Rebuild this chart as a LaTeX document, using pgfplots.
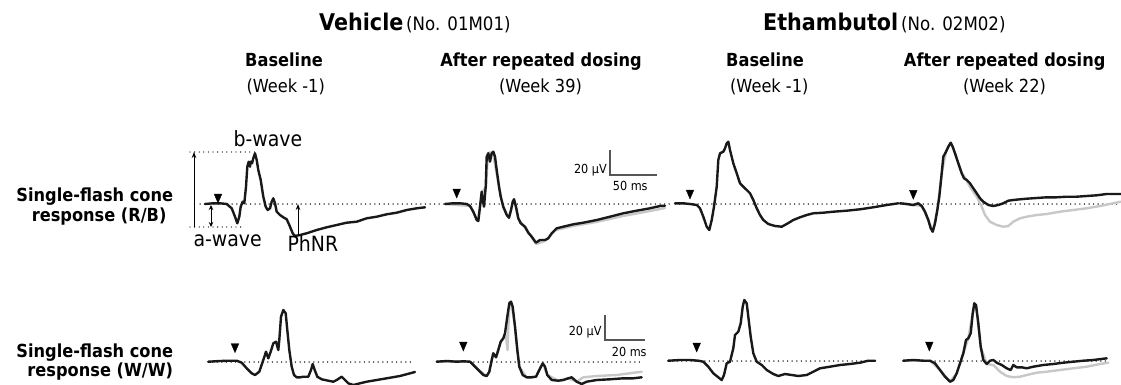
\documentclass[border=0pt]{standalone}
\usepackage{pgfplots}
\pgfplotsset{compat=1.18}
\usepackage{fontspec}
\setmainfont{DejaVu Sans}[FakeStretch=0.9]
\usetikzlibrary{arrows.meta}
\definecolor{trgray}{HTML}{C8C8C8}
\definecolor{bargray}{HTML}{555555}
\begin{document}
\begin{tikzpicture}
\begin{axis}[
  width=1121pt, height=385pt, scale only axis,
  xmin=0, xmax=1121, ymin=0, ymax=385, y dir=reverse,
  hide axis, clip=false,
  trace/.style={black!90, line width=2.4pt, line join=round, line cap=round},
  gtrace/.style={trgray, line width=2.4pt, line join=round, line cap=round},
  base/.style={black, line width=1.5pt, line cap=round, dash pattern=on 0pt off 4.6pt},
  sbar/.style={bargray, line width=1.4pt},
  stim/.style={only marks, mark=triangle*, mark size=4.4pt, black, mark options={rotate=180, yscale=1.35}},
]
% ---------- baselines ----------
\addplot[base] coordinates {(200,204) (670,204)};
\addplot[base] coordinates {(675,204) (1121,204)};
\addplot[base] coordinates {(208,362) (413,362)};
\addplot[base] coordinates {(437,362) (643,362)};
\addplot[base] coordinates {(668,361) (875,361)};
\addplot[base] coordinates {(903,361) (1108,361)};
% ---------- annotations panel 1 ----------
\addplot[base, line width=1.3pt] coordinates {(190,152) (257,152)};
\addplot[base, line width=1.3pt] coordinates {(190,227) (242,227)};
% ---------- row 1 gray traces ----------
\addplot[gtrace] coordinates {(445,204) (470,206) (478,221) (482,192) (486,187) (488,153) (493,152) (496,170) (503,207) (509,218) (514,199) (518,218) (525,228) (531,236) (536,244) (545,241) (556,230) (573,226) (596,222) (623,216) (650,211) (665,208)};
\addplot[gtrace] coordinates {(900,203.3) (913.3,205) (921.7,206) (928.3,220) (932.7,231.7) (937.3,210) (941.7,173.3) (946,151.7) (950.7,142.7) (955,153.3) (961.7,173.3) (964,176) (967,181) (970,187) (976.7,196.7) (981.7,206.7) (985,215) (990,221.7) (996.7,225) (1003.3,226.7) (1008.3,226) (1013.3,221.7) (1020,218.3) (1026.7,216.7) (1036.7,215) (1046.7,214) (1060,211.7) (1073.3,210) (1086.7,208.3) (1100,206) (1121,201.7)};
% ---------- row 1 black traces ----------
\addplot[trace] coordinates {(205,204) (213.3,203.3) (220,203.3) (226.7,204) (231.7,208.3) (235,216.7) (237.3,223.3) (239.3,216.7) (240.7,206.7) (242.7,201.7) (244.3,203.3) (246,186.7) (247.3,166.7) (248.7,161.7) (250,166.7) (250.7,161.7) (252,163.3) (253.3,158.3) (255,153.3) (256.7,160) (258.3,170) (260.7,180) (263.3,196.7) (265.7,206.7) (267.7,210) (270,208.3) (271.7,201.7) (273.3,198.3) (275,203.3) (276.7,211.7) (280,215) (283.3,217.3) (286.7,219.3) (289.3,225) (292.7,233.3) (295,236) (300,235) (306.7,233.3) (316.7,230) (326.7,227.3) (336.7,225) (346.7,222.7) (356.7,221.7) (366.7,218.3) (376.7,216.7) (386.7,214.3) (396.7,212.7) (406.7,210) (416.7,208.3) (425,207.3)};
\addplot[trace] coordinates {(445,204) (453.3,203.3) (460,203.3) (466.7,204) (470,206) (473.3,211.7) (476.7,220) (478.3,221) (480,206.7) (481.7,191.7) (482.7,200) (484,206.7) (485.7,186.7) (486.7,156.7) (488.3,153.3) (490,161.7) (491.7,153.3) (493.3,151.7) (495,156.7) (496.7,170) (499,186.7) (500.7,196.7) (503.3,206.7) (506.7,215) (509,217.7) (511,210) (512.7,201.7) (514,199.3) (516,206.7) (518.3,218.3) (520.7,223.3) (525,226.7) (528.3,232.7) (531.7,236.7) (536,242.7) (540,240) (545,240) (548.3,238.3) (551.7,233.3) (556.7,228.3) (563.3,226.7) (573.3,224.3) (583.3,222.7) (596.7,220) (610,216.7) (623.3,213.3) (636.7,210.7) (650,208.3) (660,206) (665,205.7)};
\addplot[trace] coordinates {(675,203.3) (683.3,203.3) (690,204) (696.7,205) (700,208.3) (703.3,216.7) (706.7,226.7) (709.3,230) (711.7,220) (714,206.7) (716.7,186.7) (718.3,160) (720,153.3) (723.3,151.7) (725,148.3) (726.7,143.3) (728.3,141.7) (730,150) (733.3,163.3) (736.7,173.3) (740,183.3) (743.3,186.7) (746.7,190) (750,193.3) (753.3,200) (756.7,208.3) (760,215) (763.3,220) (768.3,224) (775,226) (781.7,226.7) (786.7,224) (793.3,220) (800,217.3) (806.7,215) (813.3,213.3) (823.3,212.7) (833.3,211.7) (846.7,210.7) (860,209.3) (873.3,207.3) (886.7,205) (898.3,203.3)};
\addplot[trace] coordinates {(900,203.3) (906.7,204) (913.3,205) (918.3,203.3) (921.7,206) (925,211.7) (928.3,220) (930.7,228.3) (932.7,231.7) (935,223.3) (937.3,210) (939.3,196.7) (941.7,173.3) (943.3,156.7) (946,151.7) (948.3,146.7) (950.7,142.7) (952.7,146.7) (955,153.3) (958.3,163.3) (961.7,173.3) (964,178.3) (966.7,180) (970,183.3) (973.3,188.3) (976.7,193.3) (980,198.3) (983.3,201.7) (988.3,205) (993.3,206) (998.3,205) (1003.3,203.3) (1008.3,200.7) (1013.3,200) (1020,199.3) (1026.7,198.7) (1036.7,198) (1046.7,197.3) (1056.7,197.3) (1066.7,196.7) (1076.7,196.7) (1086.7,196) (1096.7,195.3) (1106.7,194) (1121,194)};
% ---------- row 2 gray traces ----------
\addplot[gtrace] coordinates {(436.7,361.7) (463.3,361.3) (470,361.7) (478.3,370) (486.7,376) (489.3,371.7) (491.7,360) (493.3,353.3) (496,357.3) (500.7,341.7) (503.3,338.3) (506,336) (507.5,350) (509.3,303.3) (511,301.7) (515,326.7) (519.3,366.7) (526.7,377.3) (536,376.7) (542.7,363.3) (547.3,375) (558.3,380.7) (568.3,378.3) (576.7,381.7) (583.3,377.3) (596.7,376) (616.7,375) (641.7,371.7)};
\addplot[gtrace] coordinates {(903.3,360.7) (930,360.7) (940,370) (950,381.7) (956.7,373.3) (963.3,353.3) (968.3,338.3) (972.7,313.3) (976,305) (980.7,346.7) (986.7,364) (993.3,365) (1000,371.7) (1006.7,376) (1013.3,377.3) (1020,376.7) (1026.7,375) (1036.7,372.7) (1046.7,371.7) (1060,370) (1073.3,368.3) (1086.7,366.7) (1100,364) (1108.3,362.7)};
% ---------- row 2 black traces ----------
\addplot[trace] coordinates {(208.3,361.7) (220,361) (230,360.7) (236.7,360.7) (241.7,362.7) (246.7,368.3) (251.7,373.3) (255,375) (259.3,371.7) (263.3,360) (266,351.7) (268.3,358.3) (270.7,351.7) (273.3,343.3) (276,341.7) (278.3,350) (279.3,340) (281,316.7) (283.3,310) (285.7,313.3) (287.3,330) (289.3,350) (291.7,366.7) (294,375) (296.7,377.3) (300,377.3) (303.3,376.7) (308.3,376.7) (311,370) (312.7,364) (314.7,370) (317.3,376.7) (321.7,379.3) (328.3,380.7) (333.3,381.7) (336.7,380) (341.7,376.7) (345,380) (348.3,383.3) (353.3,385) (360,383.3) (366.7,381.7) (376.7,380) (386.7,378.3) (400,376) (415,372)};
\addplot[trace] coordinates {(436.7,361.7) (446.7,361) (456.7,361.7) (463.3,361.3) (470,361.7) (473.3,365) (478.3,370) (483.3,375) (486.7,376) (489.3,371.7) (491.7,360) (493.3,353.3) (496,357.3) (498.3,350) (500.7,341.7) (503.3,338.3) (505,333.3) (507.3,316.7) (509.3,303.3) (511,301.7) (512.7,306.7) (515,326.7) (517.3,350) (519.3,366.7) (522.7,375) (526.7,377.3) (531.7,377.3) (536,376.7) (539.3,370) (542.7,363.3) (545,366.7) (547.3,375) (551.7,380) (558.3,380.7) (563.3,380) (568.3,378.3) (571.7,377.3) (576.7,381.7) (581.7,384) (586.7,381.7) (596.7,380) (610,379.3) (623.3,378.3) (633.3,378.3) (641.7,377.3)};
\addplot[trace] coordinates {(668.3,360.7) (680,360) (690,360) (698.3,360.7) (703.3,361.7) (708.3,366.7) (713.3,373.3) (718.3,377.3) (721.7,380) (724,375) (726.7,363.3) (730,361.7) (733.3,348.3) (735,335) (738.3,331.7) (740.7,323.3) (742.7,306.7) (744.3,300) (746.7,303.3) (748.3,316.7) (750.7,336.7) (753.3,353.3) (756.7,361.7) (761.7,365) (766.7,370) (773.3,374) (778.3,376) (785,374) (791.7,375) (798.3,376) (806.7,375) (813.3,371.7) (820,368.3) (830,366.7) (840,365) (850,364) (860,362.7) (868.3,360.7) (875,360.7)};
\addplot[trace] coordinates {(903.3,360.7) (913.3,360) (923.3,360.7) (930,360.7) (935,363.3) (940,370) (945,376.7) (950,381.7) (953.3,380) (956.7,373.3) (960,363.3) (963.3,353.3) (966,340) (968.3,338.3) (970.7,333.3) (972.7,313.3) (974.3,303.3) (976,305) (978.3,323.3) (980.7,346.7) (983.3,360) (986.7,364) (990,360.7) (993.3,360) (996.7,362.7) (1001.7,365) (1006.7,368.3) (1010.7,370) (1013.3,365) (1016.7,367.3) (1021.7,367.3) (1026.7,368.3) (1033.3,366.7) (1043.3,365) (1053.3,364) (1063.3,362.7) (1073.3,361.7) (1083.3,360.7) (1093.3,360) (1106.7,358.3)};
% ---------- stimulus markers ----------
\addplot[stim] coordinates {(218,197) (456.7,192) (690,193) (913.3,193.3) (235,346.7) (463.3,345) (696.7,346) (929.3,345)};
% ---------- scale bars ----------
\addplot[sbar] coordinates {(610,150) (610,175) (657,175)};
\addplot[sbar] coordinates {(605,315) (605,340) (645,340)};
% ---------- annotation arrows ----------
\addplot[black, line width=1pt, -{Stealth[length=6pt,width=4.5pt]}] coordinates {(194,227) (194,152)};
\addplot[black, line width=1pt, {Stealth[length=5pt,width=4.5pt]}-{Stealth[length=5pt,width=4.5pt]}] coordinates {(211,205) (211,227)};
\addplot[black, line width=1pt, -{Stealth[length=6pt,width=4.5pt]}] coordinates {(298,236) (298,204)};
% ---------- titles ----------
\node[anchor=base west, inner sep=0pt] at (319,30.3) {{\fontsize{23}{27}\selectfont\bfseries Vehicle} {\fontsize{18.5}{22}\selectfont (No. 01M01)}};
\node[anchor=base west, inner sep=0pt] at (763,30.3) {{\fontsize{23}{27}\selectfont\bfseries Ethambutol} {\fontsize{18.5}{22}\selectfont (No. 02M02)}};
\node[anchor=base, inner sep=0pt, font=\fontsize{18}{21}\selectfont\bfseries] at (284,67) {Baseline};
\node[anchor=base, inner sep=0pt, font=\fontsize{18}{21}\selectfont] at (285.7,92.5) {(Week -1)};
\node[anchor=base, inner sep=0pt, font=\fontsize{18}{21}\selectfont\bfseries] at (541,67) {After repeated dosing};
\node[anchor=base, inner sep=0pt, font=\fontsize{18}{21}\selectfont] at (540.5,92.5) {(Week 39)};
\node[anchor=base, inner sep=0pt, font=\fontsize{18}{21}\selectfont\bfseries] at (765,67) {Baseline};
\node[anchor=base, inner sep=0pt, font=\fontsize{18}{21}\selectfont] at (769.3,92.5) {(Week -1)};
\node[anchor=base, inner sep=0pt, font=\fontsize{18}{21}\selectfont\bfseries] at (1004.7,67) {After repeated dosing};
\node[anchor=base, inner sep=0pt, font=\fontsize{18}{21}\selectfont] at (1004.5,92.5) {(Week 22)};
% ---------- row labels ----------
\node[anchor=base east, inner sep=0pt, font=\fontsize{18}{21}\selectfont\bfseries] at (173.3,201.7) {Single-flash cone};
\node[anchor=base east, inner sep=0pt, font=\fontsize{18}{21}\selectfont\bfseries] at (166.7,221.5) {response (R/B)};
\node[anchor=base east, inner sep=0pt, font=\fontsize{18}{21}\selectfont\bfseries] at (173.3,357.3) {Single-flash cone};
\node[anchor=base east, inner sep=0pt, font=\fontsize{18}{21}\selectfont\bfseries] at (173.3,376.5) {response (W/W)};
% ---------- wave labels ----------
\node[anchor=base west, inner sep=0pt, font=\fontsize{21}{24}\selectfont] at (233.3,146.7) {b-wave};
\node[anchor=base west, inner sep=0pt, font=\fontsize{21}{24}\selectfont] at (193.3,246.7) {a-wave};
\node[anchor=base west, inner sep=0pt, font=\fontsize{21}{24}\selectfont] at (287.3,251.7) {PhNR};
% ---------- scale bar labels ----------
\node[anchor=base east, inner sep=0pt, font=\fontsize{12.5}{14}\selectfont] at (607,173) {20 µV};
\node[anchor=base west, inner sep=0pt, font=\fontsize{12.5}{14}\selectfont] at (612.7,190) {50 ms};
\node[anchor=base east, inner sep=0pt, font=\fontsize{12.5}{14}\selectfont] at (601.7,335.5) {20 µV};
\node[anchor=base west, inner sep=0pt, font=\fontsize{12.5}{14}\selectfont] at (611.7,356) {20 ms};
\end{axis}
\pgfresetboundingbox
\path[use as bounding box] (current axis.south west) rectangle (current axis.north east);
\end{tikzpicture}
\end{document}
